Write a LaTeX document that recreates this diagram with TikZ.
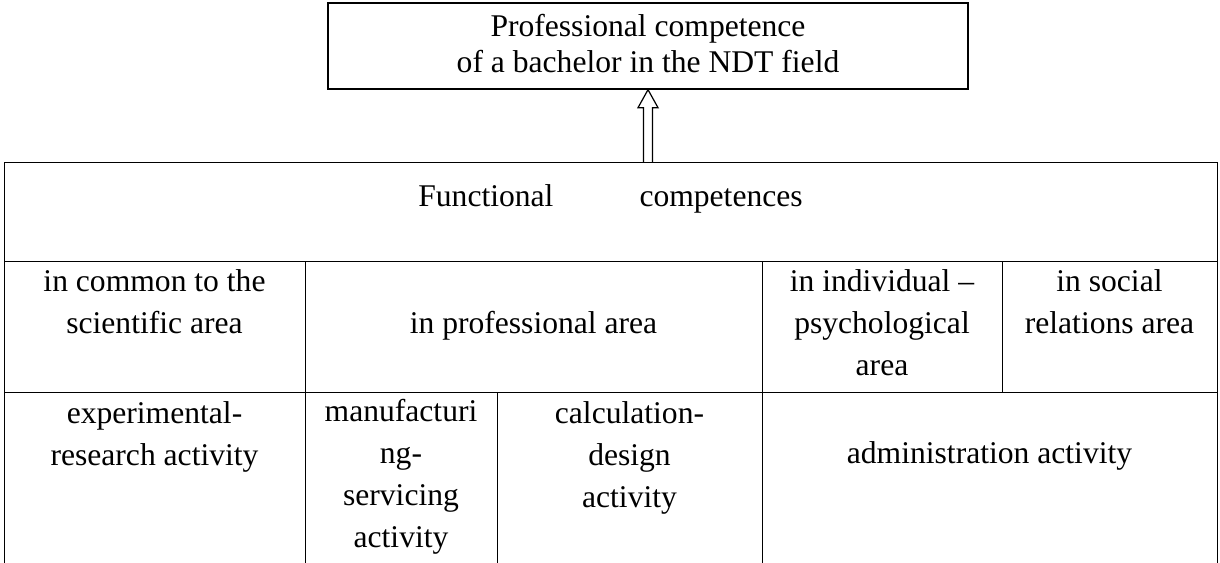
\documentclass[tikz,border=0pt]{standalone}
\usepackage{fontspec}
\setmainfont{Liberation Serif}
\usetikzlibrary{calc}
\tikzstyle{box} = [rectangle, draw=black, line width=0.7pt, inner sep=0pt]
\tikzstyle{cell} = [box, anchor=north west]
\tikzstyle{txt} = [align=center, anchor=base, inner sep=0pt, font=\fontsize{15.8pt}{21pt}\selectfont]
\tikzstyle{hollow} = [line width=0.6pt, line join=miter]

\begin{document}
\begin{tikzpicture}[x=0.5pt, y=-0.5pt]
        \useasboundingbox (0,0) rectangle (1220,562);
        \clip (0,0) rectangle (1220,562);

        % Nodes
        \node (pc) [box, minimum width=320pt, minimum height=43pt] at (648,46) {};
        \node (pcT) [txt, font=\fontsize{15.8pt}{18pt}\selectfont] at (648,72) {Professional competence\\of a bachelor in the NDT field};

        \node (func) [cell, minimum width=606.5pt, minimum height=49.5pt] at (4,162) {};
        \node (common) [cell, minimum width=150.5pt, minimum height=65.5pt] at (4,261) {};
        \node (prof) [cell, minimum width=228.5pt, minimum height=65.5pt] at (305,261) {};
        \node (indiv) [cell, minimum width=120pt, minimum height=65.5pt] at (762,261) {};
        \node (social) [cell, minimum width=107.5pt, minimum height=65.5pt] at (1002,261) {};
        \node (exper) [cell, minimum width=150.5pt, minimum height=90pt] at (4,392) {};
        \node (manuf) [cell, minimum width=96pt, minimum height=90pt] at (305,392) {};
        \node (calc) [cell, minimum width=132.5pt, minimum height=90pt] at (497,392) {};
        \node (admin) [cell, minimum width=227.5pt, minimum height=90pt] at (762,392) {};

        % Texts (placed at the baseline of their last line)
        \node (funcT) [txt] at (610.5,206) {Functional\hspace{43pt}competences};
        \node (commonT) [txt] at (154.5,333) {in common to the\\scientific area};
        \node (profT) [txt] at (533.5,333) {in professional area};
        \node (indivT) [txt] at (882,375) {in individual --\\psychological\\area};
        \node (socialT) [txt] at (1109.5,333) {in social\\relations area};
        \node (experT) [txt] at (154.5,465) {experimental-\\research activity};
        \node (manufT) [txt] at (401,547) {manufacturi\\ng-\\servicing\\activity};
        \node (calcT) [txt] at (629.5,507) {calculation-\\design\\activity};
        \node (adminT) [txt] at (989.5,463) {administration activity};

        % Arrows
        \coordinate (tail) at (func.north -| pc.south);
        \draw [hollow] ($(tail)+(-4.5,0)$) -- ($(pc.south)+(-4.5,18)$) -- ($(pc.south)+(-10,18)$)
                -- (pc.south) -- ($(pc.south)+(10,18)$) -- ($(pc.south)+(4.5,18)$) -- ($(tail)+(4.5,0)$);

\end{tikzpicture}
\end{document}
